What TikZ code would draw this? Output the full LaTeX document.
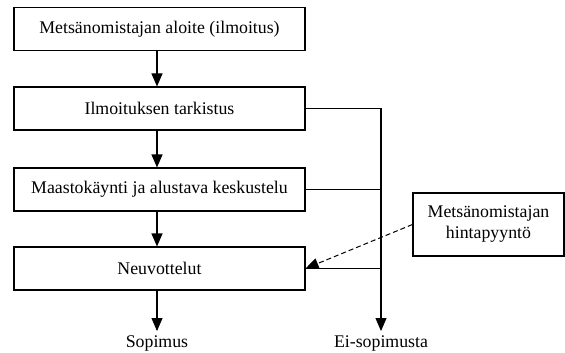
\documentclass[tikz,border=0pt]{standalone}
\usepackage{fontspec}
\setmainfont{Liberation Serif}
\usepackage{tikz}
\usetikzlibrary{arrows.meta}
\usetikzlibrary{positioning}

\begin{document}
\begin{tikzpicture}[x=1pt, y=-1pt, font=\rmfamily\fontsize{17.8}{21}\selectfont]
	\useasboundingbox (0,0) rectangle (565,353);
	\begin{scope}[every node/.style={rectangle, draw, line width=1.1pt, minimum width=291pt, minimum height=43pt, inner sep=0pt}]
		\node (aloite)      at (159.5,29)    {Metsänomistajan aloite (ilmoitus)};
		\node (tarkistus)   at (159.5,108.5) {Ilmoituksen tarkistus};
		\node (maasto)      at (159.5,189.5) {Maastokäynti ja alustava keskustelu};
		\node (neuvottelut) at (159.5,268.5) {Neuvottelut};
		\node[minimum width=151pt, minimum height=63pt, align=center] (pyynto) at (488.5,224.5) {Metsänomistajan\\hintapyyntö};
	\end{scope}
	\node[inner sep=4pt] (sop) at (157,343) {Sopimus};
	\node[inner sep=4pt] (ei)  at (381,343) {Ei-sopimusta};
	\begin{scope}[>={Triangle[width=11pt, length=13pt]},
	              every path/.style={draw=black, line width=1.1pt}]
		\draw[->] (aloite.south -| sop)      -- (tarkistus.north -| sop);
		\draw[->] (tarkistus.south -| sop)   -- (maasto.north -| sop);
		\draw[->] (maasto.south -| sop)      -- (neuvottelut.north -| sop);
		\draw[->] (neuvottelut.south -| sop) -- (sop.north);
		\draw[->] (tarkistus.east) -| (ei.north);
		\draw (maasto.east) -- (maasto.east -| ei);
		\draw (neuvottelut.east) -- (neuvottelut.east -| ei);
		\draw[->, dash pattern=on 5pt off 3pt, line width=1pt] (pyynto.west) -- (neuvottelut.east);
	\end{scope}
\end{tikzpicture}
\end{document}
